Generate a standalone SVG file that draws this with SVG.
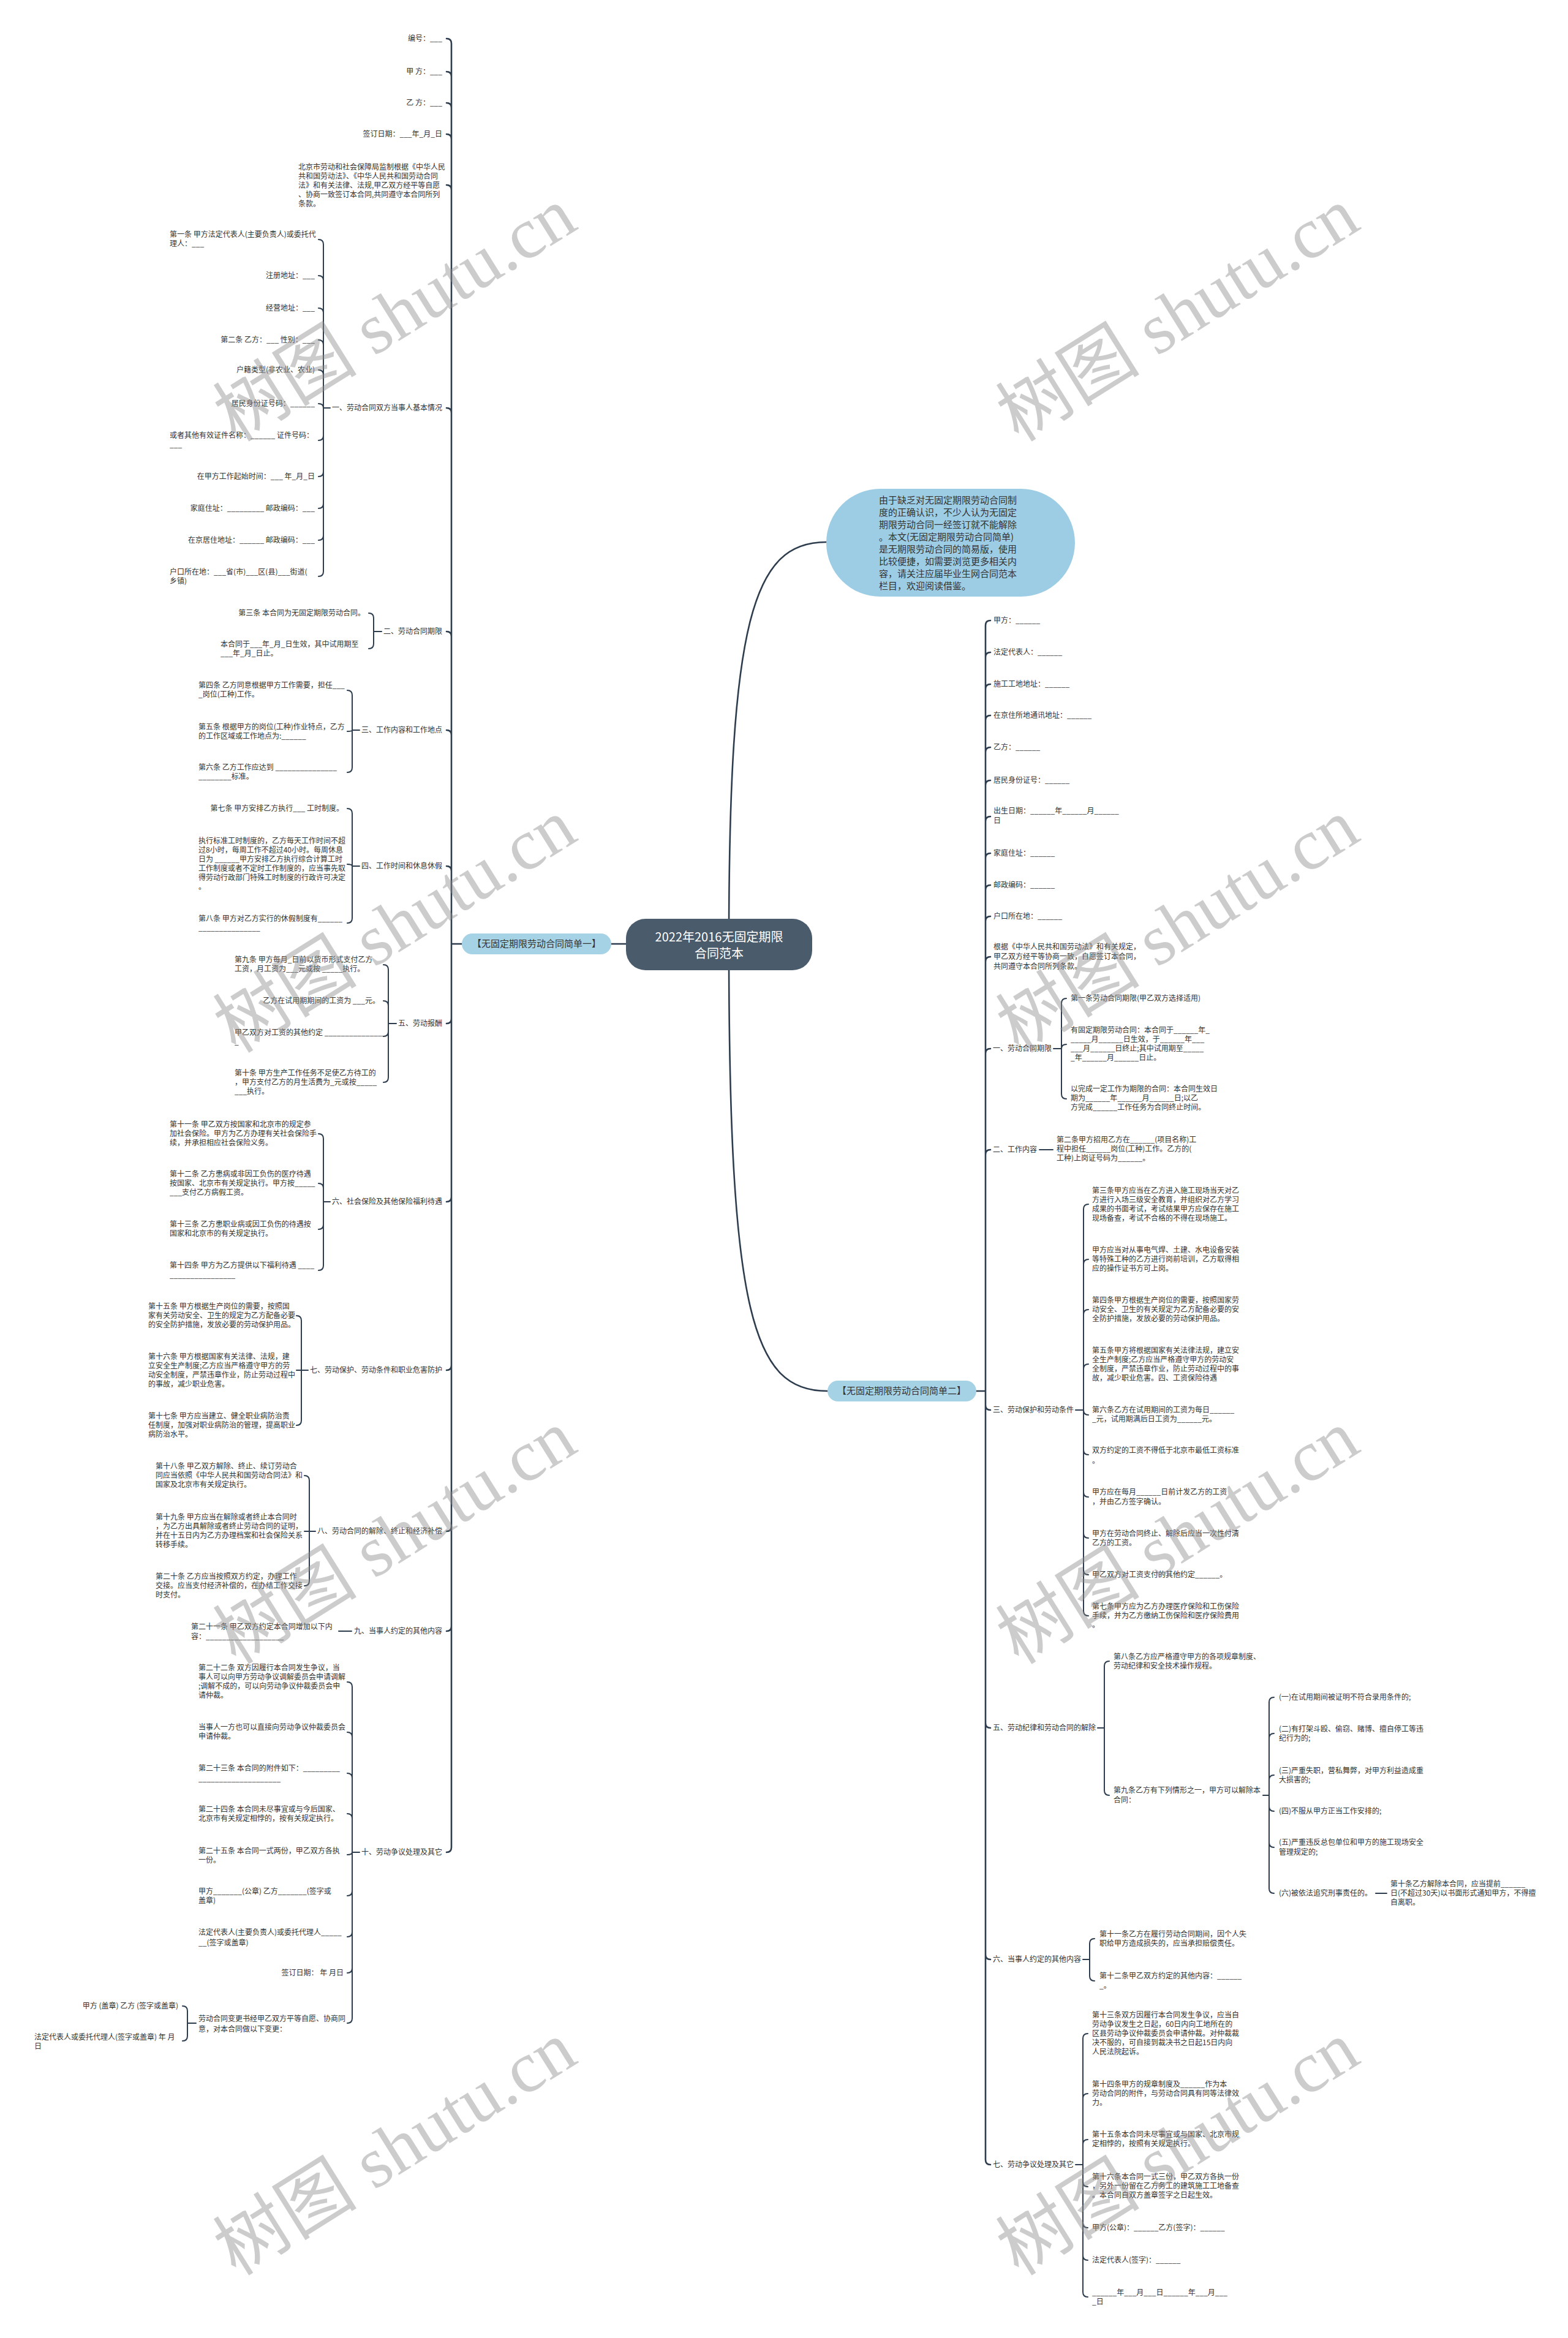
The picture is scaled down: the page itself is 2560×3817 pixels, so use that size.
<svg xmlns="http://www.w3.org/2000/svg" width="2560" height="3817" viewBox="0 0 2560 3817">
<style>
.t{font-family:"Noto Sans CJK SC","Noto Sans",sans-serif;font-size:12px;fill:#333}
.r{text-anchor:end}
.c{fill:none;stroke:#2d3d4d;stroke-width:2;stroke-linecap:round}
.m{stroke-width:2.6}
.wm{font-family:"Liberation Serif","Noto Sans CJK SC",serif;font-size:118px;fill:#8f8f8f;fill-opacity:0.45;text-anchor:middle;dominant-baseline:central}
</style>
<rect width="2560" height="3817" fill="#fff"/>

<g id="connectors">
<path class="c m" d="M1022 1541H998"/>
<path class="c m" d="M1190 1541C1190 1010 1230 885 1349 885"/>
<path class="c m" d="M1190 1541C1190 2150 1230 2271 1351 2271"/>
<path class="c m" d="M754 1541H737M737 1541V71Q737 63 729 63M737 1541V125Q737 117 729 117M737 1541V176Q737 168 729 168M737 1541V227Q737 219 729 219M737 1541V310Q737 302 729 302M737 1541V674Q737 666 729 666M737 1541V1039Q737 1031 729 1031M737 1541V1200Q737 1192 729 1192M737 1541V1422Q737 1414 729 1414M737 1541V1663Q737 1671 729 1671M737 1541V1954Q737 1962 729 1962M737 1541V2229Q737 2237 729 2237M737 1541V2492Q737 2500 729 2500M737 1541V2655Q737 2663 729 2663M737 1541V3016Q737 3024 729 3024"/>
<path class="c" d="M539 666H528M528 666V399Q528 391 520 391M528 666V458Q528 450 520 450M528 666V511Q528 503 520 503M528 666V563Q528 555 520 555M528 666V612Q528 604 520 604M528 666Q528 659 520 659M528 666V711Q528 719 520 719M528 666V770Q528 778 520 778M528 666V822Q528 830 520 830M528 666V874Q528 882 520 882M528 666V933Q528 941 520 941"/>
<path class="c" d="M623 1031H610M610 1031V1009Q610 1001 602 1001M610 1031V1051Q610 1059 602 1059"/>
<path class="c" d="M587 1192H575M575 1192V1135Q575 1127 567 1127M575 1192Q575 1194 567 1194M575 1192V1253Q575 1261 567 1261"/>
<path class="c" d="M587 1414H575M575 1414V1328Q575 1320 567 1320M575 1414Q575 1411 567 1411M575 1414V1499Q575 1507 567 1507"/>
<path class="c" d="M647 1671H634M634 1671V1583Q634 1575 626 1575M634 1671V1642Q634 1634 626 1634M634 1671V1684Q634 1692 626 1692M634 1671V1759Q634 1767 626 1767"/>
<path class="c" d="M539 1962H528M528 1962V1859Q528 1851 520 1851M528 1962V1940Q528 1932 520 1932M528 1962V1999Q528 2007 520 2007M528 1962V2066Q528 2074 520 2074"/>
<path class="c" d="M503 2237H484M492 2237V2156Q492 2148 484 2148M492 2237V2319Q492 2327 484 2327"/>
<path class="c" d="M515 2500H497M505 2500V2417Q505 2409 497 2409M505 2500V2581Q505 2589 497 2589"/>
<path class="c" d="M574 2663H553"/>
<path class="c" d="M587 3024H575M575 3024V2754Q575 2746 567 2746M575 3024V2836Q575 2828 567 2828M575 3024V2903Q575 2895 567 2895M575 3024V2969Q575 2961 567 2961M575 3024Q575 3028 567 3028M575 3024V3087Q575 3095 567 3095M575 3024V3154Q575 3162 567 3162M575 3024V3213Q575 3221 567 3221M575 3024V3295Q575 3303 567 3303"/>
<path class="c" d="M320 3303H306M306 3303V3283Q306 3275 298 3275M306 3303V3324Q306 3332 298 3332"/>
<path class="c m" d="M1594 2271H1609M1609 2271V1021Q1609 1013 1617 1013M1609 2271V1073Q1609 1065 1617 1065M1609 2271V1125Q1609 1117 1617 1117M1609 2271V1176Q1609 1168 1617 1168M1609 2271V1228Q1609 1220 1617 1220M1609 2271V1282Q1609 1274 1617 1274M1609 2271V1341Q1609 1333 1617 1333M1609 2271V1401Q1609 1393 1617 1393M1609 2271V1453Q1609 1445 1617 1445M1609 2271V1504Q1609 1496 1617 1496M1609 2271V1570Q1609 1562 1617 1562M1609 2271V1720Q1609 1712 1617 1712M1609 2271V1885Q1609 1877 1617 1877M1609 2271V2294Q1609 2302 1617 2302M1609 2271V2813Q1609 2821 1617 2821M1609 2271V3191Q1609 3199 1617 3199M1609 2271V3526Q1609 3534 1617 3534"/>
<path class="c" d="M1720 1712H1733M1733 1712V1638Q1733 1630 1741 1630M1733 1712Q1733 1705 1741 1705M1733 1712V1786Q1733 1794 1741 1794"/>
<path class="c" d="M1697 1877H1719"/>
<path class="c" d="M1756 2302H1769M1769 2302V1974Q1769 1966 1777 1966M1769 2302V2064Q1769 2056 1777 2056M1769 2302V2146Q1769 2138 1777 2138M1769 2302V2235Q1769 2227 1777 2227M1769 2302Q1769 2310 1777 2310M1769 2302V2367Q1769 2375 1777 2375M1769 2302V2436Q1769 2444 1777 2444M1769 2302V2503Q1769 2511 1777 2511M1769 2302V2563Q1769 2571 1777 2571M1769 2302V2630Q1769 2638 1777 2638"/>
<path class="c" d="M1792 2821H1803M1803 2821V2720Q1803 2712 1811 2712M1803 2821V2923Q1803 2931 1811 2931"/>
<path class="c" d="M2062 2931H2072M2072 2931V2779Q2072 2771 2080 2771M2072 2931V2838Q2072 2830 2080 2830M2072 2931V2906Q2072 2898 2080 2898M2072 2931V2949Q2072 2957 2080 2957M2072 2931V3008Q2072 3016 2080 3016M2072 2931V3083Q2072 3091 2080 3091"/>
<path class="c" d="M2246 3091H2264"/>
<path class="c" d="M1768 3199H1779M1779 3199V3173Q1779 3165 1787 3165M1779 3199V3226Q1779 3234 1787 3234"/>
<path class="c" d="M1756 3534H1768M1768 3534V3328Q1768 3320 1776 3320M1768 3534V3426Q1768 3418 1776 3418M1768 3534V3501Q1768 3493 1776 3493M1768 3534V3562Q1768 3570 1776 3570M1768 3534V3629Q1768 3637 1776 3637M1768 3534V3682Q1768 3690 1776 3690M1768 3534V3742Q1768 3750 1776 3750"/>
</g>

<g id="center"><rect x="1022" y="1500" width="304" height="84" rx="32" fill="#4a5b6c"/><text x="1174" y="1537" text-anchor="middle" style="font-family:'Noto Sans CJK SC',sans-serif;font-size:20px;fill:#fff">2022年2016无固定期限<tspan x="1174" dy="27">合同范本</tspan></text></g>
<g id="bubble"><rect x="1349" y="798" width="406" height="176" rx="88" fill="#9dcde5"/><text class="t" style="font-size:15px" x="1435" y="822">由于缺乏对无固定期限劳动合同制<tspan x="1435" dy="20">度的正确认识，不少人认为无固定</tspan><tspan x="1435" dy="20">期限劳动合同一经签订就不能解除</tspan><tspan x="1435" dy="20">。本文(无固定期限劳动合同简单)</tspan><tspan x="1435" dy="20">是无期限劳动合同的简易版，使用</tspan><tspan x="1435" dy="20">比较便捷，如需要浏览更多相关内</tspan><tspan x="1435" dy="20">容，请关注应届毕业生网合同范本</tspan><tspan x="1435" dy="20">栏目，欢迎阅读借鉴。</tspan></text></g>
<g id="branch-left"><rect x="754" y="1524" width="244" height="34" rx="17" fill="#a6d2e6"/><text class="t" style="font-size:15px" x="876" y="1546" text-anchor="middle">【无固定期限劳动合同简单一】</text></g>
<g id="branch-right"><rect x="1351" y="2254" width="243" height="34" rx="17" fill="#a6d2e6"/><text class="t" style="font-size:15px" x="1472" y="2276" text-anchor="middle">【无固定期限劳动合同简单二】</text></g>

<g id="l0"><text class="t r" x="722" y="67">编号：___</text></g>
<g id="l1"><text class="t r" x="722" y="121">甲 方：___</text></g>
<g id="l2"><text class="t r" x="722" y="172">乙 方：___</text></g>
<g id="l3"><text class="t r" x="722" y="223">签订日期：___年_月_日</text></g>
<g id="l4"><text class="t" x="487" y="277">北京市劳动和社会保障局监制根据《中华人民<tspan x="487" dy="15">共和国劳动法》、《中华人民共和国劳动合同</tspan><tspan x="487" dy="15">法》和有关法律、法规,甲乙双方经平等自愿</tspan><tspan x="487" dy="15">、协商一致签订本合同,共同遵守本合同所列</tspan><tspan x="487" dy="15">条款。</tspan></text></g>

<g id="l5"><text class="t r" x="722" y="670">一、劳动合同双方当事人基本情况</text></g>
<g id="l5a"><text class="t" x="277" y="387">第一条 甲方法定代表人(主要负责人)或委托代<tspan x="277" dy="15">理人：___</tspan></text></g>
<g id="l5b"><text class="t r" x="514" y="454">注册地址：___</text></g>
<g id="l5c"><text class="t r" x="514" y="507">经营地址：___</text></g>
<g id="l5d"><text class="t r" x="514" y="559">第二条 乙方：___ 性别：___</text></g>
<g id="l5e"><text class="t r" x="514" y="608">户籍类型(非农业、农业)</text></g>
<g id="l5f"><text class="t r" x="514" y="663">居民身份证号码：______</text></g>
<g id="l5g"><text class="t" x="277" y="715">或者其他有效证件名称：______ 证件号码：<tspan x="277" dy="15">___</tspan></text></g>
<g id="l5h"><text class="t r" x="514" y="782">在甲方工作起始时间：___ 年_月_日</text></g>
<g id="l5i"><text class="t r" x="514" y="834">家庭住址：_________ 邮政编码：___</text></g>
<g id="l5j"><text class="t r" x="514" y="886">在京居住地址：______ 邮政编码：___</text></g>
<g id="l5k"><text class="t" x="277" y="938">户口所在地：___省(市)___区(县)___街道(<tspan x="277" dy="15">乡镇)</tspan></text></g>

<g id="l6"><text class="t r" x="722" y="1035">二、劳动合同期限</text></g>
<g id="l6a"><text class="t r" x="596" y="1005">第三条 本合同为无固定期限劳动合同。</text></g>
<g id="l6b"><text class="t" x="360" y="1056">本合同于___年_月_日生效，其中试用期至<tspan x="360" dy="15">___年_月_日止。</tspan></text></g>

<g id="l7"><text class="t r" x="722" y="1196">三、工作内容和工作地点</text></g>
<g id="l7a"><text class="t" x="324" y="1123">第四条 乙方同意根据甲方工作需要，担任___<tspan x="324" dy="15">_岗位(工种)工作。</tspan></text></g>
<g id="l7b"><text class="t" x="324" y="1191">第五条 根据甲方的岗位(工种)作业特点，乙方<tspan x="324" dy="15">的工作区域或工作地点为:______</tspan></text></g>
<g id="l7c"><text class="t" x="324" y="1257">第六条 乙方工作应达到 _______________<tspan x="324" dy="15">________标准。</tspan></text></g>

<g id="l8"><text class="t r" x="722" y="1418">四、工作时间和休息休假</text></g>
<g id="l8a"><text class="t r" x="561" y="1324">第七条 甲方安排乙方执行___ 工时制度。</text></g>
<g id="l8b"><text class="t" x="324" y="1377">执行标准工时制度的，乙方每天工作时间不超<tspan x="324" dy="15">过8小时，每周工作不超过40小时。每周休息</tspan><tspan x="324" dy="15">日为 ______甲方安排乙方执行综合计算工时</tspan><tspan x="324" dy="15">工作制度或者不定时工作制度的，应当事先取</tspan><tspan x="324" dy="15">得劳动行政部门特殊工时制度的行政许可决定</tspan><tspan x="324" dy="15">。</tspan></text></g>
<g id="l8c"><text class="t" x="324" y="1504">第八条 甲方对乙方实行的休假制度有______<tspan x="324" dy="15">_______________</tspan></text></g>

<g id="l9"><text class="t r" x="722" y="1675">五、劳动报酬</text></g>
<g id="l9a"><text class="t" x="383" y="1571">第九条 甲方每月_日前以货币形式支付乙方<tspan x="383" dy="15">工资，月工资为___元或按 _____执行。</tspan></text></g>
<g id="l9b"><text class="t r" x="620" y="1638">乙方在试用期期间的工资为 ___元。</text></g>
<g id="l9c"><text class="t" x="383" y="1690">甲乙双方对工资的其他约定 _______________<tspan x="383" dy="15">_</tspan></text></g>
<g id="l9d"><text class="t" x="383" y="1756">第十条 甲方生产工作任务不足使乙方待工的<tspan x="383" dy="15">，甲方支付乙方的月生活费为_元或按_____</tspan><tspan x="383" dy="15">___执行。</tspan></text></g>

<g id="l10"><text class="t r" x="722" y="1966">六、社会保险及其他保险福利待遇</text></g>
<g id="l10a"><text class="t" x="277" y="1840">第十一条 甲乙双方按国家和北京市的规定参<tspan x="277" dy="15">加社会保险。甲方为乙方办理有关社会保险手</tspan><tspan x="277" dy="15">续，并承担相应社会保险义务。</tspan></text></g>
<g id="l10b"><text class="t" x="277" y="1921">第十二条 乙方患病或非因工负伤的医疗待遇<tspan x="277" dy="15">按国家、北京市有关规定执行。甲方按_____</tspan><tspan x="277" dy="15">___支付乙方病假工资。</tspan></text></g>
<g id="l10c"><text class="t" x="277" y="2003">第十三条 乙方患职业病或因工负伤的待遇按<tspan x="277" dy="15">国家和北京市的有关规定执行。</tspan></text></g>
<g id="l10d"><text class="t" x="277" y="2070">第十四条 甲方为乙方提供以下福利待遇 ____<tspan x="277" dy="16">________________</tspan></text></g>

<g id="l11"><text class="t r" x="722" y="2241">七、劳动保护、劳动条件和职业危害防护</text></g>
<g id="l11a"><text class="t" x="242" y="2137">第十五条 甲方根据生产岗位的需要，按照国<tspan x="242" dy="15">家有关劳动安全、卫生的规定为乙方配备必要</tspan><tspan x="242" dy="15">的安全防护措施，发放必要的劳动保护用品。</tspan></text></g>
<g id="l11b"><text class="t" x="242" y="2219">第十六条 甲方根据国家有关法律、法规，建<tspan x="242" dy="15">立安全生产制度;乙方应当严格遵守甲方的劳</tspan><tspan x="242" dy="15">动安全制度，严禁违章作业，防止劳动过程中</tspan><tspan x="242" dy="15">的事故，减少职业危害。</tspan></text></g>
<g id="l11c"><text class="t" x="242" y="2316">第十七条 甲方应当建立、健全职业病防治责<tspan x="242" dy="15">任制度，加强对职业病防治的管理，提高职业</tspan><tspan x="242" dy="15">病防治水平。</tspan></text></g>

<g id="l12"><text class="t r" x="722" y="2504">八、劳动合同的解除、终止和经济补偿</text></g>
<g id="l12a"><text class="t" x="254" y="2398">第十八条 甲乙双方解除、终止、续订劳动合<tspan x="254" dy="15">同应当依照《中华人民共和国劳动合同法》和</tspan><tspan x="254" dy="15">国家及北京市有关规定执行。</tspan></text></g>
<g id="l12b"><text class="t" x="254" y="2481">第十九条 甲方应当在解除或者终止本合同时<tspan x="254" dy="15">，为乙方出具解除或者终止劳动合同的证明，</tspan><tspan x="254" dy="15">并在十五日内为乙方办理档案和社会保险关系</tspan><tspan x="254" dy="15">转移手续。</tspan></text></g>
<g id="l12c"><text class="t" x="254" y="2578">第二十条 乙方应当按照双方约定，办理工作<tspan x="254" dy="15">交接。应当支付经济补偿的，在办结工作交接</tspan><tspan x="254" dy="15">时支付。</tspan></text></g>

<g id="l13"><text class="t r" x="722" y="2667">九、当事人约定的其他内容</text></g>
<g id="l13a"><text class="t" x="312" y="2660">第二十一条 甲乙双方约定本合同增加以下内<tspan x="312" dy="16">容：___________________</tspan></text></g>

<g id="l14"><text class="t r" x="722" y="3028">十、劳动争议处理及其它</text></g>
<g id="l14a"><text class="t" x="324" y="2727">第二十二条 双方因履行本合同发生争议，当<tspan x="324" dy="15">事人可以向甲方劳动争议调解委员会申请调解</tspan><tspan x="324" dy="15">;调解不成的，可以向劳动争议仲裁委员会申</tspan><tspan x="324" dy="15">请仲裁。</tspan></text></g>
<g id="l14b"><text class="t" x="324" y="2824">当事人一方也可以直接向劳动争议仲裁委员会<tspan x="324" dy="15">申请仲裁。</tspan></text></g>
<g id="l14c"><text class="t" x="324" y="2891">第二十三条 本合同的附件如下：_________<tspan x="324" dy="17">____________________</tspan></text></g>
<g id="l14d"><text class="t" x="324" y="2958">第二十四条 本合同未尽事宜或与今后国家、<tspan x="324" dy="15">北京市有关规定相悖的，按有关规定执行。</tspan></text></g>
<g id="l14e"><text class="t" x="324" y="3026">第二十五条 本合同一式两份，甲乙双方各执<tspan x="324" dy="15">一份。</tspan></text></g>
<g id="l14f"><text class="t" x="324" y="3092">甲方_______(公章) 乙方_______(签字或<tspan x="324" dy="15">盖章)</tspan></text></g>
<g id="l14g"><text class="t" x="324" y="3159">法定代表人(主要负责人)或委托代理人_____<tspan x="324" dy="17">__(签字或盖章)</tspan></text></g>
<g id="l14h"><text class="t r" x="561" y="3225">签订日期：  年 月日</text></g>
<g id="l14i"><text class="t" x="324" y="3300">劳动合同变更书经甲乙双方平等自愿、协商同<tspan x="324" dy="17">意，对本合同做以下变更：</tspan></text></g>
<g id="l14i1"><text class="t r" x="291" y="3279">甲方 (盖章) 乙方 (签字或盖章)</text></g>
<g id="l14i2"><text class="t" x="56" y="3330">法定代表人或委托代理人(签字或盖章) 年 月<tspan x="56" dy="15">日</tspan></text></g>

<g id="r0"><text class="t" x="1622" y="1017">甲方：______</text></g>
<g id="r1"><text class="t" x="1622" y="1069">法定代表人：______</text></g>
<g id="r2"><text class="t" x="1622" y="1121">施工工地地址：______</text></g>
<g id="r3"><text class="t" x="1622" y="1172">在京住所地通讯地址：______</text></g>
<g id="r4"><text class="t" x="1622" y="1224">乙方：______</text></g>
<g id="r5"><text class="t" x="1622" y="1278">居民身份证号：______</text></g>
<g id="r6"><text class="t" x="1622" y="1328">出生日期：______年______月______<tspan x="1622" dy="16">日</tspan></text></g>
<g id="r7"><text class="t" x="1622" y="1397">家庭住址：______</text></g>
<g id="r8"><text class="t" x="1622" y="1449">邮政编码：______</text></g>
<g id="r9"><text class="t" x="1622" y="1500">户口所在地：______</text></g>
<g id="r10"><text class="t" x="1622" y="1550">根据《中华人民共和国劳动法》和有关规定，<tspan x="1622" dy="16">甲乙双方经平等协商一致，自愿签订本合同，</tspan><tspan x="1622" dy="16">共同遵守本合同所列条款。</tspan></text></g>

<g id="r11"><text class="t" x="1621" y="1716">一、劳动合同期限</text></g>
<g id="r11a"><text class="t" x="1748" y="1634">第一条劳动合同期限(甲乙双方选择适用)</text></g>
<g id="r11b"><text class="t" x="1748" y="1686">有固定期限劳动合同：本合同于______年_<tspan x="1748" dy="15">_____月______日生效，于______年___</tspan><tspan x="1748" dy="15">___月______日终止;其中试用期至_____</tspan><tspan x="1748" dy="15">_年______月______日止。</tspan></text></g>
<g id="r11c"><text class="t" x="1748" y="1782">以完成一定工作为期限的合同：本合同生效日<tspan x="1748" dy="15">期为______年______月______日;以乙</tspan><tspan x="1748" dy="15">方完成______工作任务为合同终止时间。</tspan></text></g>

<g id="r12"><text class="t" x="1621" y="1881">二、工作内容</text></g>
<g id="r12a"><text class="t" x="1725" y="1865">第二条甲方招用乙方在______(项目名称)工<tspan x="1725" dy="15">程中担任______岗位(工种)工作。乙方的(</tspan><tspan x="1725" dy="15">工种)上岗证号码为______。</tspan></text></g>

<g id="r13"><text class="t" x="1621" y="2306">三、劳动保护和劳动条件</text></g>
<g id="r13a"><text class="t" x="1783" y="1948">第三条甲方应当在乙方进入施工现场当天对乙<tspan x="1783" dy="15">方进行入场三级安全教育，并组织对乙方学习</tspan><tspan x="1783" dy="15">成果的书面考试，考试结果甲方应保存在施工</tspan><tspan x="1783" dy="15">现场备查，考试不合格的不得在现场施工。</tspan></text></g>
<g id="r13b"><text class="t" x="1783" y="2045">甲方应当对从事电气焊、土建、水电设备安装<tspan x="1783" dy="15">等特殊工种的乙方进行岗前培训，乙方取得相</tspan><tspan x="1783" dy="15">应的操作证书方可上岗。</tspan></text></g>
<g id="r13c"><text class="t" x="1783" y="2127">第四条甲方根据生产岗位的需要，按照国家劳<tspan x="1783" dy="15">动安全、卫生的有关规定为乙方配备必要的安</tspan><tspan x="1783" dy="15">全防护措施，发放必要的劳动保护用品。</tspan></text></g>
<g id="r13d"><text class="t" x="1783" y="2209">第五条甲方将根据国家有关法律法规，建立安<tspan x="1783" dy="15">全生产制度;乙方应当严格遵守甲方的劳动安</tspan><tspan x="1783" dy="15">全制度，严禁违章作业，防止劳动过程中的事</tspan><tspan x="1783" dy="15">故，减少职业危害。四、工资保险待遇</tspan></text></g>
<g id="r13e"><text class="t" x="1783" y="2306">第六条乙方在试用期间的工资为每日______<tspan x="1783" dy="15">_元，试用期满后日工资为______元。</tspan></text></g>
<g id="r13f"><text class="t" x="1783" y="2372">双方约定的工资不得低于北京市最低工资标准<tspan x="1783" dy="17">。</tspan></text></g>
<g id="r13g"><text class="t" x="1783" y="2440">甲方应在每月______日前计发乙方的工资<tspan x="1783" dy="16">，并由乙方签字确认。</tspan></text></g>
<g id="r13h"><text class="t" x="1783" y="2508">甲方在劳动合同终止、解除后应当一次性付清<tspan x="1783" dy="15">乙方的工资。</tspan></text></g>
<g id="r13i"><text class="t" x="1783" y="2575">甲乙双方对工资支付的其他约定______。</text></g>
<g id="r13j"><text class="t" x="1783" y="2627">第七条甲方应为乙方办理医疗保险和工伤保险<tspan x="1783" dy="15">手续，并为乙方缴纳工伤保险和医疗保险费用</tspan><tspan x="1783" dy="15">。</tspan></text></g>

<g id="r14"><text class="t" x="1621" y="2825">五、劳动纪律和劳动合同的解除</text></g>
<g id="r14a"><text class="t" x="1818" y="2709">第八条乙方应严格遵守甲方的各项规章制度、<tspan x="1818" dy="15">劳动纪律和安全技术操作规程。</tspan></text></g>
<g id="r14b"><text class="t" x="1818" y="2927">第九条乙方有下列情形之一，甲方可以解除本<tspan x="1818" dy="16">合同：</tspan></text></g>
<g id="r14b1"><text class="t" x="2088" y="2775">(一)在试用期间被证明不符合录用条件的;</text></g>
<g id="r14b2"><text class="t" x="2088" y="2827">(二)有打架斗殴、偷窃、赌博、擅自停工等违<tspan x="2088" dy="15">纪行为的;</tspan></text></g>
<g id="r14b3"><text class="t" x="2088" y="2895">(三)严重失职，营私舞弊，对甲方利益造成重<tspan x="2088" dy="15">大损害的;</tspan></text></g>
<g id="r14b4"><text class="t" x="2088" y="2961">(四)不服从甲方正当工作安排的;</text></g>
<g id="r14b5"><text class="t" x="2088" y="3012">(五)严重违反总包单位和甲方的施工现场安全<tspan x="2088" dy="16">管理规定的;</tspan></text></g>
<g id="r14b6"><text class="t" x="2088" y="3095">(六)被依法追究刑事责任的。</text></g>
<g id="r14b6a"><text class="t" x="2270" y="3080">第十条乙方解除本合同，应当提前______<tspan x="2270" dy="15">日(不超过30天)以书面形式通知甲方，不得擅</tspan><tspan x="2270" dy="15">自离职。</tspan></text></g>

<g id="r15"><text class="t" x="1621" y="3203">六、当事人约定的其他内容</text></g>
<g id="r15a"><text class="t" x="1795" y="3162">第十一条乙方在履行劳动合同期间，因个人失<tspan x="1795" dy="15">职给甲方造成损失的，应当承担赔偿责任。</tspan></text></g>
<g id="r15b"><text class="t" x="1795" y="3230">第十二条甲乙双方约定的其他内容：______<tspan x="1795" dy="16">_。</tspan></text></g>

<g id="r16"><text class="t" x="1621" y="3538">七、劳动争议处理及其它</text></g>
<g id="r16a"><text class="t" x="1783" y="3294">第十三条双方因履行本合同发生争议，应当自<tspan x="1783" dy="15">劳动争议发生之日起，60日内向工地所在的</tspan><tspan x="1783" dy="15">区县劳动争议仲裁委员会申请仲裁。对仲裁裁</tspan><tspan x="1783" dy="15">决不服的，可自接到裁决书之日起15日内向</tspan><tspan x="1783" dy="15">人民法院起诉。</tspan></text></g>
<g id="r16b"><text class="t" x="1783" y="3407">第十四条甲方的规章制度及______作为本<tspan x="1783" dy="15">劳动合同的附件，与劳动合同具有同等法律效</tspan><tspan x="1783" dy="15">力。</tspan></text></g>
<g id="r16c"><text class="t" x="1783" y="3489">第十五条本合同未尽事宜或与国家、北京市规<tspan x="1783" dy="15">定相悖的，按照有关规定执行。</tspan></text></g>
<g id="r16d"><text class="t" x="1783" y="3558">第十六条本合同一式三份，甲乙双方各执一份<tspan x="1783" dy="15">，另外一份留在乙方务工的建筑施工工地备查</tspan><tspan x="1783" dy="15">。本合同自双方盖章签字之日起生效。</tspan></text></g>
<g id="r16e"><text class="t" x="1783" y="3641">甲方(公章)：______乙方(签字)：______</text></g>
<g id="r16f"><text class="t" x="1783" y="3694">法定代表人(签字)：______</text></g>
<g id="r16g"><text class="t" x="1783" y="3747">______年___月___日______年___月___<tspan x="1783" dy="15">_日</tspan></text></g>

<g id="watermark">
<text class="wm" x="645" y="514" transform="rotate(-32 645 514)">树图 shutu.cn</text>
<text class="wm" x="1923" y="514" transform="rotate(-32 1923 514)">树图 shutu.cn</text>
<text class="wm" x="645" y="1512" transform="rotate(-32 645 1512)">树图 shutu.cn</text>
<text class="wm" x="1923" y="1512" transform="rotate(-32 1923 1512)">树图 shutu.cn</text>
<text class="wm" x="645" y="2510" transform="rotate(-32 645 2510)">树图 shutu.cn</text>
<text class="wm" x="1923" y="2510" transform="rotate(-32 1923 2510)">树图 shutu.cn</text>
<text class="wm" x="645" y="3508" transform="rotate(-32 645 3508)">树图 shutu.cn</text>
<text class="wm" x="1923" y="3508" transform="rotate(-32 1923 3508)">树图 shutu.cn</text>
</g>
</svg>
